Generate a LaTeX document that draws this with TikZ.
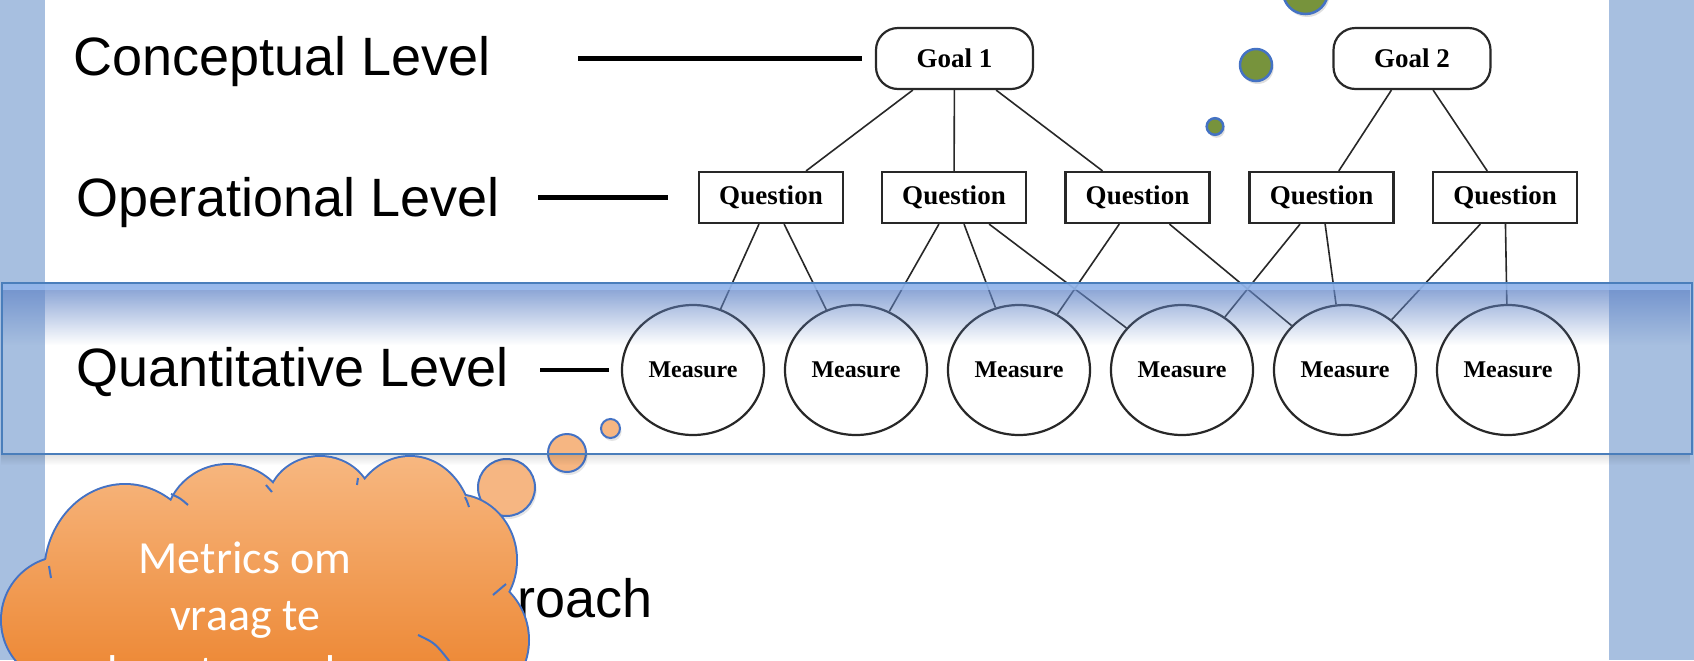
\documentclass[tikz,border=0pt]{standalone}
\usepackage{fontspec}
\setmainfont{Liberation Sans}
\newfontfamily\figfont{Liberation Serif}
\newfontfamily\callfont{Carlito}
\usetikzlibrary{shapes.geometric, shadows, fadings, calc}

\definecolor{sidebar}{RGB}{167,191,224}
\definecolor{bandblue}{RGB}{100,135,200}
\definecolor{bandtop}{RGB}{160,195,245}
\definecolor{bandline}{RGB}{74,126,187}
\definecolor{bubblegreen}{RGB}{119,147,60}
\definecolor{bubbleline}{RGB}{68,114,196}
\definecolor{bubbleorange}{RGB}{246,182,130}
\definecolor{cloudtop}{RGB}{247,183,128}
\definecolor{cloudbot}{RGB}{235,128,40}
\definecolor{inkgrey}{RGB}{40,40,40}

\tikzfading[name=bandfade, top color=transparent!0, middle color=transparent!0, bottom color=transparent!100]
\tikzfading[name=shadowfade, top color=transparent!0, bottom color=transparent!100]

\tikzset{
    level/.style={anchor=base west, inner sep=0pt, font=\fontsize{27}{30}\selectfont},
    levelline/.style={line width=2.2pt, black},
    goal/.style={draw=inkgrey, line width=1.1pt, rounded corners=11pt, minimum width=78.5pt,
        minimum height=30.5pt, inner sep=0pt, font=\figfont\bfseries\fontsize{13.5}{15}\selectfont},
    question/.style={draw=inkgrey, line width=1.1pt, minimum width=72pt, minimum height=25.5pt,
        inner sep=0pt, font=\figfont\bfseries\fontsize{13.5}{15}\selectfont},
    measure/.style={ellipse, draw=inkgrey, line width=1.1pt, minimum width=71pt, minimum height=65pt,
        inner sep=0pt, font=\figfont\bfseries\fontsize{12}{14}\selectfont},
    link/.style={line width=0.8pt, inkgrey},
    greenbubble/.style={fill=bubblegreen, draw=bubbleline, line width=1.25pt,
        drop shadow={opacity=0.25, shadow xshift=0.8pt, shadow yshift=-1.5pt}},
    orangebubble/.style={fill=bubbleorange, draw=bubbleline, line width=1pt,
        drop shadow={opacity=0.2, shadow xshift=0.8pt, shadow yshift=-1.5pt}},
    cloudline/.style={bubbleline, line width=1pt},
    cloudtext/.style={anchor=base, align=center, text=white, font=\callfont\fontsize{23}{28.5}\selectfont}
}

\begin{document}
\begin{tikzpicture}[x=0.5pt, y=-0.5pt]
    \useasboundingbox (0, 0) rectangle (1694, 660);
    \fill [white] (0, 0) rectangle (1694, 660);
    \fill [sidebar] (0, 0) rectangle (45, 660);
    \fill [sidebar] (1609, 0) rectangle (1694, 660);

    \node [level] (Lc) at (73, 75) {Conceptual Level};
    \node [level] (Lo) at (76, 216) {Operational Level};
    \node [level] (Lq) at (76, 386) {Quantitative Level};

    \node [goal] (G1) at (954.5, 58.5) {Goal 1};
    \node [goal] (G2) at (1412, 58.5) {Goal 2};

    \node [question] (Q1) at (771, 197.5) {Question};
    \node [question] (Q2) at (954, 197.5) {Question};
    \node [question] (Q3) at (1137.5, 197.5) {Question};
    \node [question] (Q4) at (1321.5, 197.5) {Question};
    \node [question] (Q5) at (1505, 197.5) {Question};

    \node [measure] (M1) at (693, 370) {Measure};
    \node [measure] (M2) at (856, 370) {Measure};
    \node [measure] (M3) at (1019, 370) {Measure};
    \node [measure] (M4) at (1182, 370) {Measure};
    \node [measure] (M5) at (1345, 370) {Measure};
    \node [measure] (M6) at (1508, 370) {Measure};

    \foreach \a/\b in {G1/Q1, G1/Q2, G1/Q3, G2/Q4, G2/Q5,
        Q1/M1, Q1/M2, Q2/M2, Q2/M3, Q2/M4, Q3/M3, Q3/M5, Q4/M4, Q4/M5, Q5/M5, Q5/M6}
        \draw [link] (\a) -- (\b);

    \draw [levelline] ($(Lc.east |- G1.west) + (87, 0)$) -- ($(G1.west) + (-13, 0)$);
    \draw [levelline] ($(Lo.east |- Q1.west) + (38, 0)$) -- ($(Q1.west) + (-30, 0)$);
    \draw [levelline] ($(Lq.east |- M1.west) + (31, 0)$) -- ($(M1.west) + (-12, 0)$);

    \path [greenbubble] (1305.5, -8.5) circle (22.5);
    \path [greenbubble] (1256, 65) circle (16);
    \path [greenbubble] (1215, 126.5) circle (8.3);

    \path [orangebubble] (506.5, 487.5) circle (28.5);
    \path [orangebubble] (567, 453) circle (19);
    \path [orangebubble] (610.5, 428.5) circle (9.5);

    \fill [black, fill opacity=0.12, path fading=shadowfade] (2, 454) rectangle (1692, 465);
    \fill [bandblue, fill opacity=0.82, path fading=bandfade] (2, 283) rectangle (1692, 345);
    \fill [bandtop, fill opacity=0.7] (2, 283) rectangle (1692, 290);
    \draw [bandline, line width=0.8pt] (2, 283) rectangle (1692, 454);

    \node [level, anchor=base east] (La) at (653, 617) {roach};

    \draw [bubbleline, line width=2pt] foreach \cx/\cy/\rx/\ry in {65/620/63/63, 125/575/80/90,
        228/525/62/60, 320/505/52/48, 410/530/62/73, 455/560/61/65, 455/640/73/70}
        {(\cx, \cy) ellipse [x radius=\rx, y radius=\ry]};
    \shade [top color=cloudtop, bottom color=cloudbot] foreach \cx/\cy/\rx/\ry in {65/620/63/63,
        125/575/80/90, 228/525/62/60, 320/505/52/48, 410/530/62/73, 455/560/61/65, 455/640/73/70}
        {(\cx, \cy) ellipse [x radius=\rx, y radius=\ry]} (262, 610) ellipse [x radius=240, y radius=100];
    \draw [cloudline] (49, 566) .. controls (50, 572) .. (51, 578);
    \draw [cloudline] (171, 494) .. controls (180, 498) .. (188, 505);
    \draw [cloudline] (266, 485) .. controls (269, 488) .. (272, 492);
    \draw [cloudline] (358, 478) .. controls (357, 481) .. (357, 485);
    \draw [cloudline] (465, 497) .. controls (467, 501) .. (469, 507);
    \draw [cloudline] (506, 584) .. controls (500, 590) .. (493, 595);
    \draw [cloudline] (418, 635) .. controls (435, 643) .. (450, 662);

    \node [cloudtext] (Ct) at (245, 687) {Metrics om\\vraag te\\beantwoorden};
\end{tikzpicture}
\end{document}
